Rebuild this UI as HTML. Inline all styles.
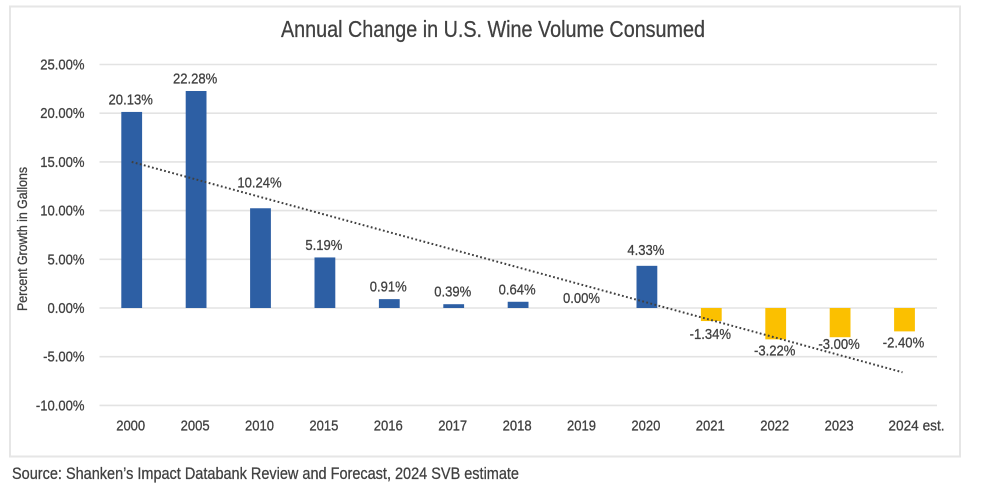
<!DOCTYPE html>
<html lang="en">
<head>
<meta charset="utf-8">
<title>Annual Change in U.S. Wine Volume Consumed</title>
<style>
html,body{margin:0;padding:0;background:#fff;width:981px;height:490px;overflow:hidden}
svg{display:block;font-family:"Liberation Sans",Arial,sans-serif}
svg text{stroke:#404040;stroke-width:0.28px}
</style>
</head>
<body>
<svg id="chart" width="981" height="490" viewBox="0 0 981 490">
  <rect x="10" y="6.5" width="950" height="450" fill="#fff" stroke="#e6e6e6" stroke-width="2"/>
  <text x="493" y="37" text-anchor="middle" font-size="23" fill="#404040" textLength="424" lengthAdjust="spacingAndGlyphs">Annual Change in U.S. Wine Volume Consumed</text>
  <text transform="translate(27,239) rotate(-90)" text-anchor="middle" font-size="13.5" fill="#404040" textLength="144" lengthAdjust="spacingAndGlyphs">Percent Growth in Gallons</text>
  <text x="12" y="479" font-size="16.5" fill="#404040" textLength="507" lengthAdjust="spacingAndGlyphs">Source: Shanken’s Impact Databank Review and Forecast, 2024 SVB estimate</text>
  <g id="grid"></g>
  <g id="yticks"></g>
  <g id="xticks"></g>
  <g id="bars"></g>
  <g id="trend"></g>
  <g id="labels"></g>
</svg>
<script>
const categories = ['2000','2005','2010','2015','2016','2017','2018','2019','2020','2021','2022','2023','2024 est.'];
const values = [20.13,22.28,10.24,5.19,0.91,0.39,0.64,0.00,4.33,-1.34,-3.22,-3.00,-2.40];
const yTicks = [25,20,15,10,5,0,-5,-10];
const trendEnds = [15.0,-6.6];

const NS = 'http://www.w3.org/2000/svg';
const yScale = v => 308 - v * 9.74;
const xScale = i => 131.7 + i * 64.4;
const BAR_W = 20.8;
const FONT = 15;
const SQUEEZE = 0.87;

function make(tag, parent) {
  const el = document.createElementNS(NS, tag);
  parent.appendChild(el);
  return el;
}
function squeeze(el, factor) {
  el.setAttribute('textLength', (el.getComputedTextLength() * factor).toFixed(1));
  el.setAttribute('lengthAdjust', 'spacingAndGlyphs');
}
function fmt(v) { return v.toFixed(2) + '%'; }
function labelCenter(i) {
  const c = categories[i], v = values[i], y0 = yScale(v);
  if (c === '2010') return y0 - 26;
  if (c === '2020') return y0 - 16;
  if (c === '2023') return y0 + 7;
  if (c === '2021') return y0 + 13;
  if (v >= 0) return y0 - (v === 0 ? 10 : 12.5);
  return y0 + 11;
}
function xLabelX(i) {
  return xScale(i) - 1 + (categories[i].length > 4 ? 13 : 0);
}

const gridG = document.getElementById('grid');
const yG = document.getElementById('yticks');
yTicks.forEach(t => {
  const line = make('line', gridG);
  
  
  line.setAttribute('x1', 99.5);
  line.setAttribute('x2', 937);
  line.setAttribute('y1', yScale(t));
  line.setAttribute('y2', yScale(t));
  line.setAttribute('stroke', '#e3e3e3');
  line.setAttribute('stroke-width', 1.6);
  const txt = make('text', yG);
  
  
  txt.setAttribute('x', 84.5);
  txt.setAttribute('y', yScale(t) + 5);
  txt.setAttribute('text-anchor', 'end');
  txt.setAttribute('font-size', FONT);
  txt.setAttribute('fill', '#404040');
  txt.textContent = fmt(t);
  squeeze(txt, SQUEEZE);
});

const xG = document.getElementById('xticks');
const barG = document.getElementById('bars');
const labelG = document.getElementById('labels');
categories.forEach((c, i) => {
  const t = make('text', xG);
  
  
  t.setAttribute('x', xLabelX(i));
  t.setAttribute('y', 430.5);
  t.setAttribute('text-anchor', 'middle');
  t.setAttribute('font-size', FONT);
  t.setAttribute('fill', '#404040');
  t.textContent = c;
  squeeze(t, c.length > 4 ? 0.91 : SQUEEZE);

  const v = values[i];
  const top = Math.min(yScale(v), yScale(0));
  const h = Math.abs(yScale(v) - yScale(0));
  const b = make('rect', barG);
  
  
  b.setAttribute('x', xScale(i) - BAR_W / 2);
  b.setAttribute('y', top);
  b.setAttribute('width', BAR_W);
  b.setAttribute('height', h);
  b.setAttribute('fill', v < 0 ? '#fbc000' : '#2d5fa4');

  const l = make('text', labelG);
  
  
  l.setAttribute('x', xScale(i) - 1);
  l.setAttribute('y', labelCenter(i) + 5);
  l.setAttribute('text-anchor', 'middle');
  l.setAttribute('font-size', FONT);
  l.setAttribute('fill', '#404040');
  l.textContent = fmt(v);
  squeeze(l, SQUEEZE);
});

const trendLine = make('line', document.getElementById('trend'));


trendLine.setAttribute('x1', xScale(0));
trendLine.setAttribute('x2', xScale(categories.length - 1) - 2);
trendLine.setAttribute('y1', yScale(trendEnds[0]));
trendLine.setAttribute('y2', yScale(trendEnds[1]));
trendLine.setAttribute('stroke', '#404040');
trendLine.setAttribute('stroke-width', 2);
trendLine.setAttribute('stroke-dasharray', '1.8 2.4');
</script>
</body>
</html>
